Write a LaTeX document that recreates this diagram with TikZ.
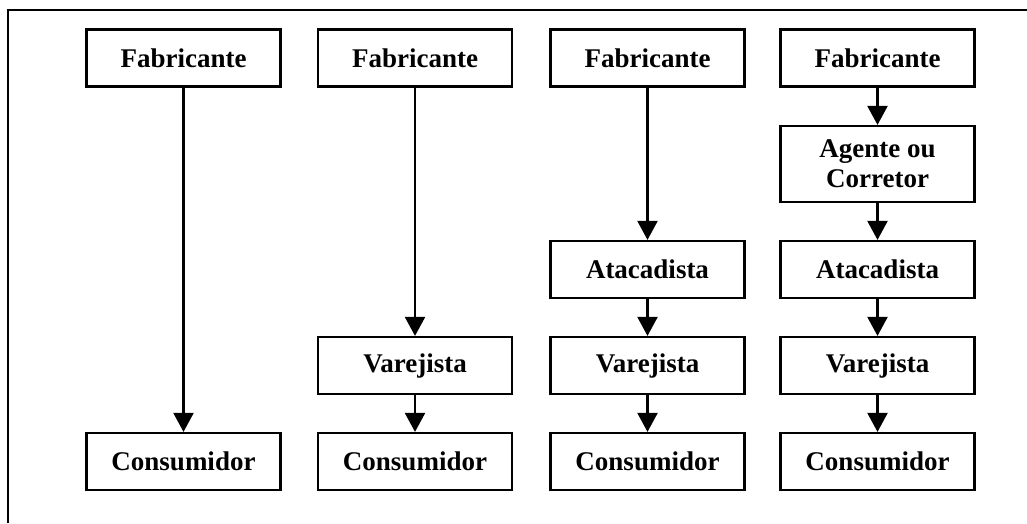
\documentclass[tikz,border=0pt]{standalone}
\usepackage{fontspec}
\setmainfont{Liberation Serif}
\usetikzlibrary{arrows.meta}
\begin{document}
\begin{tikzpicture}[x=1pt,y=-1pt,
  box/.style={draw,line width=2.2pt,minimum width=194pt,minimum height=57pt,inner sep=0pt,
    font=\fontsize{27}{30}\selectfont\bfseries,align=center},
  flow/.style={line width=2.2pt,-{Triangle[width=20pt,length=19pt]}},
  frame/.style={line width=2pt}]
\useasboundingbox (0,0) rectangle (1027,523);
\coordinate (fa) at (8,523);
\coordinate (fb) at (8,10);
\coordinate (fc) at (1027,10);
\draw[frame] (fa) -- (fb) -- (fc);
% column 1
\node[box] (f1) at (183.5,58) {Fabricante};
\node[box] (c1) at (183.5,461.5) {Consumidor};
% column 2
\node[box] (f2) at (415,58) {Fabricante};
\node[box] (v2) at (415,365.5) {Varejista};
\node[box] (c2) at (415,461.5) {Consumidor};
% column 3
\node[box] (f3) at (647.5,58) {Fabricante};
\node[box] (a3) at (647.5,269.5) {Atacadista};
\node[box] (v3) at (647.5,365.5) {Varejista};
\node[box] (c3) at (647.5,461.5) {Consumidor};
% column 4
\node[box] (f4) at (877.5,58) {Fabricante};
\node[box,minimum height=76pt] (g4) at (877.5,164) {Agente ou\\Corretor};
\node[box] (a4) at (877.5,269.5) {Atacadista};
\node[box] (v4) at (877.5,365.5) {Varejista};
\node[box] (c4) at (877.5,461.5) {Consumidor};
% connectors
\draw[flow] (f1) -- (c1);
\draw[flow] (f2) -- (v2);
\draw[flow] (v2) -- (c2);
\draw[flow] (f3) -- (a3);
\draw[flow] (a3) -- (v3);
\draw[flow] (v3) -- (c3);
\draw[flow] (f4) -- (g4);
\draw[flow] (g4) -- (a4);
\draw[flow] (a4) -- (v4);
\draw[flow] (v4) -- (c4);
\end{tikzpicture}
\end{document}
